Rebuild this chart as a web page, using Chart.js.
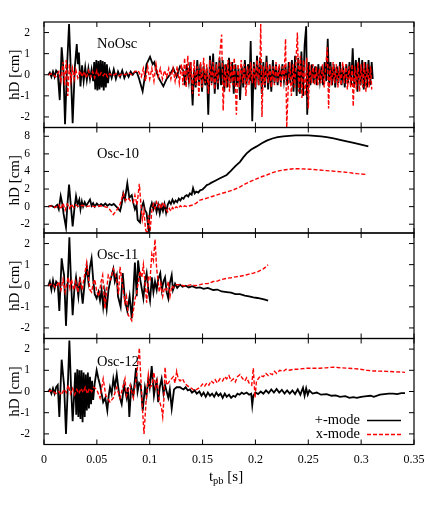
<!DOCTYPE html>
<html>
<head>
<meta charset="utf-8">
<script src="https://cdn.jsdelivr.net/npm/chart.js@4.4.1/dist/chart.umd.min.js"></script>
<style>
body { margin: 0; background: #fff; }
#wrap { position: relative; width: 436px; height: 523px; }
#wrap canvas { position: absolute; left: 0; top: 0; }
</style>
</head>
<body>
<div id="wrap">
<canvas id="p0" width="436" height="523"></canvas>
<canvas id="p1" width="436" height="523"></canvas>
<canvas id="p2" width="436" height="523"></canvas>
<canvas id="p3" width="436" height="523"></canvas>
</div>
<script>
// ---- data: [t_pb (s), hD (cm)] ----
const xTicks = [0, 0.05, 0.1, 0.15, 0.2, 0.25, 0.3, 0.35];
const xTickLabels = ['0', '0.05', '0.1', '0.15', '0.2', '0.25', '0.3', '0.35'];
const yTicksSmall = [-2, -1, 0, 1, 2];
const yTicksOsc10 = [-2, 0, 2, 4, 6, 8];
const panelNames = ['NoOsc', 'Osc-10', 'Osc-11', 'Osc-12'];
const seriesNames = ['+-mode', 'x-mode'];

const noOscPlus = [[0.004,0],[0.0055,0.1],[0.007,-0.1],[0.0085,0.15],[0.010,-0.1],[0.0115,0.2],[0.013,0.1],[0.0149,-1.2],[0.0167,1.3],[0.0183,0.3],[0.0199,-2.35],[0.0218,0.4],[0.0237,2.4],[0.0254,0.1],[0.0271,-2.3],[0.0292,0.4],[0.031,1.45],[0.032,0.5],[0.033,1.05],[0.0345,-0.55],[0.036,0.45],[0.0375,-0.3],[0.039,0.35],[0.0405,-0.25],[0.042,0.3],[0.0435,-0.2],[0.045,0.25],[0.0465,-0.3],
  [0.0475,0.6],[0.0485,-0.7],[0.0495,0.7],[0.0505,-0.75],[0.0515,0.65],[0.0525,-0.7],[0.0535,0.7],[0.0545,-0.6],[0.0555,0.65],[0.0565,-0.75],[0.0575,0.6],[0.0585,-0.6],[0.0595,0.5],[0.0605,-0.4],
  [0.062,0.2],[0.064,-0.15],[0.066,0.25],[0.068,-0.2],[0.070,0.15],[0.072,-0.1],[0.074,0.2],[0.076,-0.15],[0.078,0.1],[0.080,-0.1],[0.082,0.15],[0.084,0.0],[0.086,0.15],[0.088,0.1],[0.090,-0.2],[0.0933,-0.78],[0.096,0.1],[0.097,0.5],[0.1003,0.85],[0.1028,0.5],[0.1044,0.6],[0.1066,0.1],[0.109,-0.2],[0.1129,-0.55],[0.116,-0.2],[0.119,0.0],[0.1223,0.3],[0.1255,-0.1],[0.1287,0.4],[0.1318,0.2],
  [0.1335,-0.5],[0.135,0.5],[0.137,-0.3],[0.1385,0.6],[0.1406,-1.45],[0.142,0.3],[0.1435,-0.6],[0.145,0.7],[0.1465,-0.4],[0.148,0.5],[0.1495,-0.8],[0.151,0.4],[0.1525,-0.5],[0.154,0.3],[0.1554,-1.9],[0.157,0.9],[0.1586,-0.4],[0.160,1.0],[0.1615,-0.9],[0.163,0.6],[0.1645,-0.7],[0.166,0.8],[0.1675,-0.5],[0.169,0.7],[0.1705,-0.8],[0.172,0.5],[0.1735,-0.6],[0.175,0.8],[0.1765,-0.4],[0.178,0.6],[0.1795,-0.9],[0.181,0.5],[0.1825,-0.5],[0.184,0.3],[0.1855,-1.2],[0.187,0.4],[0.1885,-0.6],[0.190,0.7],[0.1915,-0.5],[0.193,0.5],[0.1945,-0.3],[0.1955,1.6],[0.197,-2.2],[0.1985,0.6],[0.200,-0.7],[0.2015,0.9],[0.203,-0.5],[0.2045,0.8],[0.206,-0.9],[0.2075,0.6],[0.209,-0.6],[0.2105,0.9],[0.212,-0.7],[0.2135,0.5],[0.215,-0.8],[0.2165,0.7],[0.218,-0.4],[0.2195,0.5],[0.221,-0.5],[0.2225,0.4],[0.224,-0.4],[0.2255,0.5],[0.227,-0.3],[0.2285,0.4],[0.230,-0.5],[0.2315,0.6],[0.233,-0.4],[0.2345,0.7],[0.236,-0.8],[0.2375,0.9],[0.239,-1.0],[0.2405,0.8],[0.242,-0.9],[0.2435,1.1],[0.245,-1.0],[0.2465,1.4],[0.248,2.3],[0.249,-1.9],[0.2505,0.6],[0.252,-0.5],[0.2535,0.5],[0.255,-0.4],[0.2565,0.4],[0.258,-0.5],[0.2595,0.5],[0.261,-0.3],[0.2625,0.4],[0.264,-0.5],[0.2655,0.6],[0.267,-0.3],[0.2684,1.7],[0.2698,-0.6],[0.271,0.6],[0.2725,-0.5],[0.274,0.5],[0.2755,-0.6],[0.277,0.4],[0.2785,-0.4],[0.280,0.6],[0.2815,-0.5],[0.283,0.4],[0.2845,-0.6],[0.286,0.5],[0.2875,-0.4],[0.289,0.6],[0.2905,-0.5],[0.292,1.25],[0.2935,-0.6],[0.295,0.7],[0.2965,-0.8],[0.298,0.8],[0.2995,-0.5],[0.301,0.7],[0.3025,-0.7],[0.304,0.6],[0.3055,-0.6],[0.307,0.7],[0.3085,-0.5],[0.310,0.6],[0.311,-0.2]];

const noOscCross = [[0.004,0],[0.008,0.05],[0.011,-0.1],[0.014,0.15],[0.016,-0.3],[0.018,0.6],[0.0195,-0.5],[0.021,0.7],[0.0225,-1.0],[0.024,0.5],[0.0255,-0.3],[0.027,0.3],[0.0285,-0.2],[0.030,0.25],[0.032,-0.15],[0.034,0.2],[0.036,-0.1],[0.038,0.15],[0.040,-0.15],[0.042,0.2],[0.044,-0.1],[0.046,0.15],[0.048,-0.15],[0.050,0.2],[0.052,-0.1],[0.054,0.1],[0.056,-0.05],[0.058,0.1],[0.060,-0.1],[0.062,0.05],[0.065,-0.05],[0.068,0.05],[0.071,-0.05],[0.074,0.05],[0.077,0.0],[0.080,0.1],[0.083,0.0],[0.086,0.15],[0.089,0.2],[0.092,-0.1],[0.094,0.3],[0.096,-0.3],[0.098,0.4],[0.100,-0.2],[0.102,0.3],[0.104,-0.3],[0.106,0.5],[0.108,-0.1],[0.110,0.3],[0.112,-0.2],[0.114,0.2],[0.116,-0.1],[0.118,0.3],[0.120,-0.2],[0.122,0.3],[0.124,-0.3],[0.126,0.4],[0.128,-0.4],[0.130,0.5],
  [0.1315,-0.5],[0.133,0.8],[0.1345,-0.6],[0.136,0.9],[0.1375,-0.4],[0.139,0.6],[0.1405,-0.9],[0.142,0.7],[0.1435,-0.5],[0.145,0.4],[0.1465,-1.0],[0.148,0.6],[0.1495,-0.6],[0.151,0.8],[0.1525,-0.4],[0.154,0.5],[0.1555,-0.9],[0.157,0.7],[0.1585,-0.5],[0.160,0.6],[0.1615,-0.7],[0.163,0.5],[0.1645,-0.4],[0.166,0.8],[0.168,1.9],[0.1695,-1.7],[0.171,0.5],[0.1725,-0.6],[0.174,0.7],[0.1755,-0.8],[0.177,0.6],[0.1785,-0.5],[0.180,0.8],[0.182,-1.9],[0.1835,0.5],[0.185,-0.6],[0.1865,0.7],[0.188,-0.4],[0.1895,0.5],[0.191,-1.0],[0.1925,0.4],[0.194,-0.5],[0.1955,0.6],[0.197,-0.4],[0.1985,0.5],[0.200,-0.6],[0.2015,0.7],[0.203,-0.5],[0.2045,1.0],[0.205,2.4],[0.2062,-2.0],[0.2075,0.4],[0.209,-0.5],[0.2105,0.6],[0.212,-0.4],[0.2135,0.5],[0.215,-0.6],[0.2165,0.4],[0.218,-0.5],[0.2195,0.6],[0.221,-0.4],[0.2225,0.5],[0.224,-0.6],[0.2255,0.4],[0.227,-0.3],[0.2285,1.7],[0.2296,-2.5],[0.231,-0.6],[0.2325,0.6],[0.234,-1.0],[0.2355,0.5],[0.237,-0.6],[0.2385,0.8],[0.2397,2.0],[0.241,-0.8],[0.2425,0.9],[0.244,-1.1],[0.2455,0.7],[0.247,-1.0],[0.2485,0.8],[0.250,-1.6],[0.2515,0.5],[0.253,-0.4],[0.2545,0.5],[0.256,-0.5],[0.2575,0.4],[0.259,-0.5],[0.2605,0.3],[0.262,-0.4],[0.2635,0.5],[0.265,-0.6],[0.2665,0.4],[0.268,1.3],[0.2692,-1.6],[0.2705,0.4],[0.272,-0.5],[0.2735,0.6],[0.275,-0.4],[0.2765,0.5],[0.278,-0.6],[0.2795,0.4],[0.281,-0.5],[0.2825,0.6],[0.284,-0.4],[0.2855,0.5],[0.287,-0.7],[0.2885,0.4],[0.290,-0.6],[0.2915,0.5],[0.2925,-1.5],[0.294,0.4],[0.2955,-0.7],[0.297,0.6],[0.2985,-0.8],[0.300,0.5],[0.3015,-0.6],[0.303,0.6],[0.3045,-0.8],[0.306,0.5],[0.3075,-0.6],[0.309,0.4],[0.310,-0.7]];

const osc10Plus = [[0.004,0],[0.007,0.1],[0.010,-0.1],[0.0125,0.2],[0.014,-0.3],[0.0158,1.2],[0.0175,0.2],[0.0185,-0.8],[0.0208,-2.35],[0.0222,0.3],[0.0237,2.5],[0.0252,0.4],[0.0271,-2.25],[0.0288,-0.2],[0.0303,1.2],[0.0318,0.2],[0.0334,0.8],[0.0345,-0.3],[0.0358,0.6],[0.037,0.0],[0.0385,0.5],[0.040,0.1],[0.0415,0.4],[0.0435,0.8],[0.045,0.1],[0.0465,0.4],[0.048,0.0],[0.050,0.35],[0.052,0.05],[0.054,0.3],[0.056,0.1],[0.058,0.35],[0.060,0.1],[0.062,0.3],[0.064,0.15],[0.066,0.3],[0.068,0.05],[0.070,-0.2],[0.072,-0.5],[0.0735,0.3],[0.075,1.5],[0.0765,0.8],[0.0788,2.65],[0.0807,1.0],[0.083,1.3],[0.0845,0.4],[0.086,-0.3],[0.0875,0.2],[0.0886,-1.5],[0.0908,-1.8],[0.0925,0.0],[0.094,0.5],[0.0955,-0.4],[0.097,-0.7],[0.0987,-2.4],[0.1005,-0.2],[0.102,0.4],[0.1035,-0.3],[0.105,0.3],[0.1065,-0.6],[0.108,0.2],[0.1095,-0.8],[0.111,0.1],[0.1125,-0.5],[0.114,0.3],[0.1155,-0.7],[0.117,0.2],[0.1185,0.6],[0.120,0.3],[0.1215,0.8],[0.123,0.4],[0.1245,0.7],[0.126,0.5],[0.1275,0.9],[0.129,0.7],[0.1305,1.0],[0.132,0.9],[0.1335,1.2],[0.135,1.3],[0.1365,1.15],[0.138,1.5],[0.1397,1.35],[0.141,2.1],[0.1425,1.5],[0.144,1.7],[0.146,1.6],[0.1476,1.85],[0.150,1.95],[0.152,2.2],[0.154,2.45],[0.156,2.55],[0.158,2.7],[0.162,2.95],[0.166,3.2],[0.1728,3.6],[0.177,4.1],[0.181,4.6],[0.1854,5.1],[0.1885,5.6],[0.1917,6.05],[0.196,6.5],[0.2012,6.85],[0.206,7.2],[0.2107,7.5],[0.216,7.75],[0.221,7.9],[0.2264,8.0],[0.232,8.05],[0.238,8.1],[0.244,8.1],[0.250,8.1],[0.256,8.05],[0.262,7.98],[0.2674,7.9],[0.274,7.75],[0.280,7.6],[0.2864,7.42],[0.293,7.25],[0.300,7.05],[0.3068,6.85]];

const osc10Cross = [[0.004,0],[0.008,0.1],[0.011,-0.1],[0.014,0.2],[0.016,-0.3],[0.018,0.4],[0.020,-0.4],[0.022,0.3],[0.024,-0.2],[0.026,0.3],[0.028,-0.1],[0.030,0.2],[0.033,0.0],[0.036,0.15],[0.040,0.0],[0.044,0.1],[0.048,0.0],[0.052,0.1],[0.056,0.05],[0.060,-0.1],[0.062,-0.3],[0.0656,-0.9],[0.068,-0.5],[0.070,-0.2],[0.072,0.3],[0.075,1.5],[0.077,0.7],[0.0795,1.0],[0.082,0.6],[0.0845,0.5],[0.086,1.3],[0.088,0.2],[0.0902,2.6],[0.0915,0.5],[0.093,-1.5],[0.0945,-0.5],[0.096,-2.5],[0.0975,-3.2],[0.099,-1.0],[0.1003,-2.8],[0.102,-0.5],[0.1035,0.3],[0.105,-0.2],[0.1065,0.5],[0.108,0.0],[0.1095,0.4],[0.111,-0.2],[0.1125,0.5],[0.114,0.2],[0.1155,-0.3],[0.117,-0.6],[0.1185,-0.2],[0.120,-0.5],[0.1215,-0.1],[0.123,-0.3],[0.125,0.0],[0.127,-0.2],[0.129,0.1],[0.131,-0.1],[0.133,0.1],[0.135,0.0],[0.138,0.1],[0.141,0.2],[0.144,0.4],[0.1476,0.75],[0.151,0.85],[0.155,1.0],[0.159,1.15],[0.163,1.3],[0.168,1.5],[0.1728,1.65],[0.179,1.9],[0.1854,2.25],[0.190,2.55],[0.195,2.85],[0.200,3.1],[0.2045,3.35],[0.2107,3.6],[0.217,3.9],[0.2233,4.1],[0.230,4.22],[0.236,4.3],[0.2435,4.3],[0.2516,4.25],[0.259,4.18],[0.2674,4.1],[0.277,4.0],[0.2864,3.9],[0.296,3.75],[0.3053,3.65]];

const osc11Plus = [[0.004,0],[0.0055,0.2],[0.007,-0.2],[0.0085,0.25],[0.010,-0.15],[0.0115,0.2],[0.013,0.1],[0.0145,-1.2],[0.0167,1.3],[0.018,0.8],[0.019,0.5],[0.0208,-1.9],[0.0225,0.2],[0.024,2.3],[0.0255,0.3],[0.0271,-1.4],[0.0287,-0.2],[0.0303,0.4],[0.0325,-0.5],[0.034,0.4],[0.0366,-0.85],[0.0388,0.3],[0.0405,0.9],[0.042,0.2],[0.0435,0.9],[0.045,1.3],[0.0465,0.3],[0.048,-0.4],[0.0498,-0.6],[0.0515,-0.3],[0.053,-0.7],[0.0545,-0.2],[0.056,-1.0],[0.0575,-0.3],[0.0593,-1.1],[0.061,-0.2],[0.063,0.3],[0.0656,0.8],[0.067,0.2],[0.0688,0.5],[0.070,-0.5],[0.0725,-1.0],[0.0745,0.6],[0.0766,-0.7],[0.0788,-1.2],[0.081,-0.5],[0.083,-1.55],[0.0845,-0.3],[0.086,1.1],[0.0877,-0.5],[0.089,1.2],[0.091,0.3],[0.094,-0.6],[0.0955,0.2],[0.0971,0.6],[0.0987,-0.2],[0.1003,-0.7],[0.102,0.4],[0.1035,-0.3],[0.105,0.2],[0.1066,-0.2],[0.108,0.3],[0.110,0.6],[0.1115,-0.2],[0.113,0.2],[0.1145,0.4],[0.116,-0.3],[0.1176,-0.6],[0.119,0.1],[0.1208,0.5],[0.122,-0.2],[0.124,0.1],[0.126,-0.1],[0.1287,0.05],[0.131,-0.05],[0.134,0.0],[0.137,-0.08],[0.140,-0.02],[0.144,-0.1],[0.1476,-0.08],[0.151,-0.15],[0.155,-0.1],[0.160,-0.2],[0.164,-0.18],[0.168,-0.27],[0.1728,-0.3],[0.177,-0.33],[0.181,-0.4],[0.1854,-0.4],[0.190,-0.47],[0.194,-0.5],[0.198,-0.55],[0.202,-0.58],[0.206,-0.62],[0.209,-0.66],[0.212,-0.7]];

const osc11Cross = [[0.004,0],[0.008,0.1],[0.011,-0.1],[0.014,0.2],[0.016,-0.2],[0.018,0.3],[0.020,-0.3],[0.0215,0.1],[0.023,0.4],[0.0245,-0.1],[0.026,0.3],[0.028,-0.2],[0.030,0.2],[0.032,-0.3],[0.034,0.3],[0.036,-0.2],[0.038,0.4],[0.0404,1.1],[0.042,0.4],[0.0435,-0.2],[0.045,-0.3],[0.0465,0.1],[0.048,0.3],[0.050,-0.3],[0.052,-0.5],[0.054,0.2],[0.0555,0.5],[0.0577,-1.1],[0.059,-0.3],[0.0608,0.5],[0.063,0.3],[0.0656,0.8],[0.067,0.6],[0.069,0.2],[0.0705,-0.4],[0.0719,0.9],[0.0735,0.3],[0.0766,-0.8],[0.078,-0.5],[0.0797,-1.4],[0.0814,-1.5],[0.083,-1.65],[0.0845,-1.2],[0.0862,-0.6],[0.0877,-0.3],[0.0893,0.2],[0.0908,0.7],[0.0925,0.4],[0.094,1.0],[0.0955,0.2],[0.0971,-0.8],[0.0987,0.4],[0.1003,0.3],[0.102,1.5],[0.1035,1.2],[0.105,2.2],[0.1066,0.8],[0.108,0.2],[0.109,-0.3],[0.1105,0.1],[0.1123,-0.5],[0.114,-0.1],[0.116,-0.2],[0.1176,0.2],[0.1192,-0.5],[0.121,0.0],[0.1223,-0.1],[0.125,0.05],[0.1287,0.05],[0.132,0.0],[0.135,0.0],[0.139,0.05],[0.143,0.0],[0.1476,0.05],[0.151,0.1],[0.155,0.1],[0.160,0.2],[0.164,0.22],[0.168,0.3],[0.1728,0.35],[0.177,0.38],[0.181,0.42],[0.1854,0.45],[0.190,0.5],[0.194,0.55],[0.198,0.6],[0.202,0.66],[0.2075,0.8],[0.210,0.9],[0.212,1.0]];

const osc12Plus = [[0.004,0],[0.0055,0.1],[0.007,-0.1],[0.0085,0.15],[0.010,-0.1],[0.0115,0.2],[0.013,0.3],[0.0145,-1.2],[0.0167,1.5],[0.018,0.8],[0.019,0.3],[0.0208,-2.0],[0.0225,0.2],[0.024,2.4],[0.0255,0.3],[0.0271,-1.4],[0.0285,-0.2],
  [0.0295,0.9],[0.0305,-1.1],[0.0315,1.05],[0.0325,-1.2],[0.0335,1.0],[0.0345,-1.3],[0.0355,1.0],[0.0365,-1.45],[0.0375,0.9],[0.0385,-1.2],[0.0395,0.8],[0.0405,-0.9],[0.0415,0.9],[0.0425,-0.8],[0.0435,0.7],[0.0445,-0.6],[0.0455,0.5],[0.0465,-0.4],
  [0.048,0.4],[0.0498,1.0],[0.0515,0.6],[0.053,0.3],[0.0545,-0.1],[0.056,-0.5],[0.058,-0.3],[0.0599,-0.9],[0.0612,-0.2],[0.0624,0.2],[0.064,-0.1],[0.0656,0.6],[0.067,0.2],[0.0688,0.8],[0.070,0.3],[0.0713,-0.2],[0.0735,-0.6],[0.0757,0.3],[0.0782,-0.3],[0.0795,0.2],[0.0807,-1.2],[0.0825,0.2],[0.0845,-0.2],[0.087,1.1],[0.0885,0.0],[0.090,0.4],[0.0915,0.3],[0.0934,-0.9],[0.0955,0.2],[0.097,-0.2],[0.0987,0.6],[0.100,0.2],[0.1019,1.2],[0.104,-0.2],[0.1055,0.3],[0.1066,0.5],[0.108,-0.5],[0.1095,0.2],[0.1113,0.6],[0.113,-0.1],[0.1145,0.3],[0.116,0.0],[0.1176,-0.3],[0.119,0.1],[0.1208,-0.8],[0.123,0.1],[0.1255,0.2],[0.1287,0.2],[0.130,0.15],[0.132,0.1],[0.134,0.2],[0.136,0.05],[0.138,0.1],[0.140,-0.05],[0.1425,0.05],[0.1445,-0.1],[0.147,0.0],[0.149,-0.2],[0.151,-0.05],[0.153,-0.25],[0.155,-0.05],[0.157,-0.2],[0.159,-0.1],[0.161,-0.25],[0.163,-0.05],[0.165,-0.2],[0.167,-0.1],[0.169,-0.3],[0.171,-0.1],[0.1728,-0.25],[0.175,-0.15],[0.177,-0.3],[0.179,-0.2],[0.181,-0.25],[0.183,-0.1],[0.185,-0.15],[0.187,-0.05],[0.189,-0.12],[0.1917,-0.05],[0.194,-0.15],[0.196,-0.1],[0.197,-0.65],[0.198,-0.2],[0.200,-0.05],[0.2025,-0.12],[0.205,0.0],[0.2075,-0.1],[0.210,0.05],[0.2125,-0.08],[0.215,0.1],[0.2175,-0.05],[0.220,0.12],[0.2225,-0.05],[0.225,0.08],[0.2275,-0.1],[0.230,0.05],[0.2325,-0.1],[0.235,0.05],[0.2375,-0.12],[0.240,0.1],[0.2425,-0.15],[0.245,0.18],[0.2465,-0.2],[0.248,0.15],[0.2495,-0.15],[0.251,0.05],[0.254,-0.1],[0.258,-0.05],[0.262,-0.15],[0.2674,-0.12],[0.272,-0.2],[0.276,-0.18],[0.280,-0.25],[0.285,-0.22],[0.289,-0.3],[0.2926,-0.27],[0.296,-0.3],[0.300,-0.25],[0.3053,-0.22],[0.309,-0.2],[0.312,-0.25],[0.3178,-0.15],[0.322,-0.12],[0.326,-0.1],[0.3304,-0.1],[0.334,-0.12],[0.338,-0.08],[0.3415,-0.08]];

const osc12Cross = [[0.004,0],[0.008,0.05],[0.011,-0.1],[0.014,0.0],[0.0165,-0.15],[0.019,0.1],[0.021,-0.05],[0.023,0.3],[0.025,-0.1],[0.027,0.15],[0.029,-0.15],[0.031,0.1],[0.033,-0.1],[0.035,0.15],[0.037,-0.05],[0.039,0.2],[0.041,-0.1],[0.043,0.15],[0.045,0.0],[0.047,0.2],[0.0498,0.1],[0.053,-0.3],[0.056,0.6],[0.0585,-0.2],[0.0624,-0.5],[0.0656,-0.3],[0.0688,0.2],[0.0719,-0.3],[0.074,0.1],[0.0766,0.6],[0.078,-0.2],[0.0814,0.3],[0.0845,-0.3],[0.0877,0.8],[0.0902,2.05],[0.0924,-0.2],[0.0946,-2.0],[0.0965,-0.5],[0.0987,0.8],[0.1003,0.2],[0.102,0.3],[0.104,0.9],[0.1055,0.2],[0.107,0.5],[0.109,-0.4],[0.1112,-0.8],[0.1123,-1.2],[0.1135,-0.3],[0.1145,1.15],[0.116,0.3],[0.119,0.5],[0.1223,0.7],[0.124,0.4],[0.1255,0.95],[0.127,0.6],[0.1287,0.5],[0.131,0.6],[0.133,0.4],[0.135,0.3],[0.1375,0.2],[0.1397,0.15],[0.142,0.05],[0.1445,0.1],[0.1476,0.2],[0.150,0.35],[0.152,0.25],[0.154,0.4],[0.156,0.3],[0.158,0.5],[0.1602,0.4],[0.162,0.55],[0.164,0.4],[0.1665,0.6],[0.169,0.5],[0.171,0.7],[0.1728,0.6],[0.175,0.75],[0.177,0.5],[0.1791,0.6],[0.181,0.45],[0.183,0.7],[0.1854,0.8],[0.188,0.6],[0.190,0.5],[0.1917,0.65],[0.194,0.4],[0.1965,0.3],[0.198,1.1],[0.1996,-0.3],[0.201,0.5],[0.2027,0.6],[0.205,0.75],[0.2075,0.7],[0.210,0.85],[0.212,0.75],[0.2138,0.85],[0.216,0.8],[0.218,0.95],[0.2201,0.85],[0.223,1.0],[0.2264,0.95],[0.229,1.05],[0.232,1.0],[0.2359,1.05],[0.240,1.05],[0.2485,1.1],[0.255,1.1],[0.2611,1.1],[0.2675,1.12],[0.2737,1.15],[0.280,1.12],[0.2864,1.1],[0.293,1.08],[0.299,1.05],[0.305,1.0],[0.3115,0.97],[0.318,0.96],[0.3242,0.95],[0.331,0.93],[0.337,0.92],[0.3415,0.9]];

// ---- layout / style ----
const serif = "'Liberation Serif', 'Times New Roman', serif";
const W = 436, H = 523;
const panels = [
  { plus: noOscPlus, cross: noOscCross, yMin: -2.5, yMax: 2.5, yTicks: yTicksSmall, top: 22, bottom: 127.5, nameDy: 22 },
  { plus: osc10Plus, cross: osc10Cross, yMin: -3, yMax: 9, yTicks: yTicksOsc10, top: 127.5, bottom: 233, nameDy: 27 },
  { plus: osc11Plus, cross: osc11Cross, yMin: -2.5, yMax: 2.5, yTicks: yTicksSmall, top: 233, bottom: 338.5, nameDy: 22 },
  { plus: osc12Plus, cross: osc12Cross, yMin: -2.5, yMax: 2.5, yTicks: yTicksSmall, top: 338.5, bottom: 444.5, nameDy: 23.5 }
];

// box, inward ticks on all sides, panel name, legend, x title
const framePlugin = {
  id: 'frame',
  afterDraw(chart, args, o) {
    const { ctx, chartArea: a, scales: { x, y } } = chart;
    ctx.save();
    ctx.strokeStyle = '#000';
    ctx.lineWidth = 1;
    ctx.beginPath();
    xTicks.forEach(v => {
      const px = x.getPixelForValue(v);
      ctx.moveTo(px, a.top); ctx.lineTo(px, a.top + 5);
      ctx.moveTo(px, a.bottom); ctx.lineTo(px, a.bottom - 5);
    });
    o.yTicks.forEach(v => {
      const py = y.getPixelForValue(v);
      ctx.moveTo(a.left, py); ctx.lineTo(a.left + 5, py);
      ctx.moveTo(a.right, py); ctx.lineTo(a.right - 5, py);
    });
    ctx.stroke();
    ctx.lineWidth = 1.2;
    ctx.strokeRect(a.left, a.top, a.width, a.height);

    ctx.fillStyle = '#000';
    ctx.font = '14.5px ' + serif;
    ctx.textBaseline = 'middle';
    ctx.textAlign = 'left';
    ctx.fillText(o.name, a.left + 53, a.top + o.nameDy);

    if (o.last) {
      // legend
      ctx.textAlign = 'right';
      ctx.fillText(seriesNames[0], a.right - 54, a.bottom - 24);
      ctx.fillText(seriesNames[1], a.right - 54, a.bottom - 10);
      ctx.lineWidth = 1.5;
      ctx.beginPath();
      ctx.moveTo(a.right - 47, a.bottom - 24); ctx.lineTo(a.right - 13, a.bottom - 24);
      ctx.stroke();
      ctx.strokeStyle = '#ff0000';
      ctx.setLineDash([4, 2]);
      ctx.beginPath();
      ctx.moveTo(a.right - 47, a.bottom - 10); ctx.lineTo(a.right - 13, a.bottom - 10);
      ctx.stroke();
      ctx.setLineDash([]);

      // x axis title: t_pb [s]
      ctx.textAlign = 'left';
      ctx.textBaseline = 'alphabetic';
      const big = '15px ' + serif, small = '10.5px ' + serif;
      ctx.font = big; const w1 = ctx.measureText('t').width, w3 = ctx.measureText(' [s]').width;
      ctx.font = small; const w2 = ctx.measureText('pb').width;
      let sx = 226 - (w1 + w2 + w3) / 2;
      const by = a.bottom + 36;
      ctx.font = big; ctx.fillText('t', sx, by); sx += w1;
      ctx.font = small; ctx.fillText('pb', sx, by + 3); sx += w2;
      ctx.font = big; ctx.fillText(' [s]', sx, by);
    }
    ctx.restore();
  }
};

const toXY = arr => arr.map(p => ({ x: p[0], y: p[1] }));

panels.forEach((p, i) => {
  const last = i === panels.length - 1;
  const xAxisH = last ? 20 : 0;
  new Chart(document.getElementById('p' + i), {
    type: 'line',
    data: {
      datasets: [
        {
          label: seriesNames[1],
          data: toXY(p.cross),
          borderColor: '#ff0000',
          borderWidth: 1.4,
          borderDash: [4, 2],
          pointRadius: 0,
          tension: 0
        },
        {
          label: seriesNames[0],
          data: toXY(p.plus),
          borderColor: '#000000',
          borderWidth: 1.8,
          pointRadius: 0,
          tension: 0
        }
      ]
    },
    options: {
      responsive: false,
      animation: false,
      events: [],
      devicePixelRatio: 1,
      layout: { padding: { left: 0, right: W - 414, top: p.top, bottom: H - p.bottom - xAxisH } },
      plugins: {
        legend: { display: false },
        tooltip: { enabled: false },
        frame: { name: panelNames[i], nameDy: p.nameDy, yTicks: p.yTicks, last: last }
      },
      scales: {
        x: {
          type: 'linear',
          min: 0,
          max: 0.35,
          grid: { display: false },
          border: { display: false },
          afterBuildTicks: s => { s.ticks = xTicks.map(v => ({ value: v })); },
          afterFit: s => { s.height = xAxisH; },
          ticks: {
            display: last,
            autoSkip: false,
            maxRotation: 0,
            padding: 0,
            color: '#000',
            font: { family: serif, size: 12 },
            callback: (v, idx) => xTickLabels[idx]
          }
        },
        y: {
          min: p.yMin,
          max: p.yMax,
          grid: { display: false },
          border: { display: false },
          afterBuildTicks: s => { s.ticks = p.yTicks.map(v => ({ value: v })); },
          afterFit: s => { s.width = 44; },
          ticks: {
            padding: 6,
            color: '#000',
            font: { family: serif, size: 11.5 },
            callback: v => String(v)
          },
          title: {
            display: true,
            text: 'hD [cm]',
            color: '#000',
            font: { family: serif, size: 15 },
            padding: { top: 6, bottom: 0 }
          }
        }
      }
    },
    plugins: [framePlugin]
  });
});
</script>
</body>
</html>
